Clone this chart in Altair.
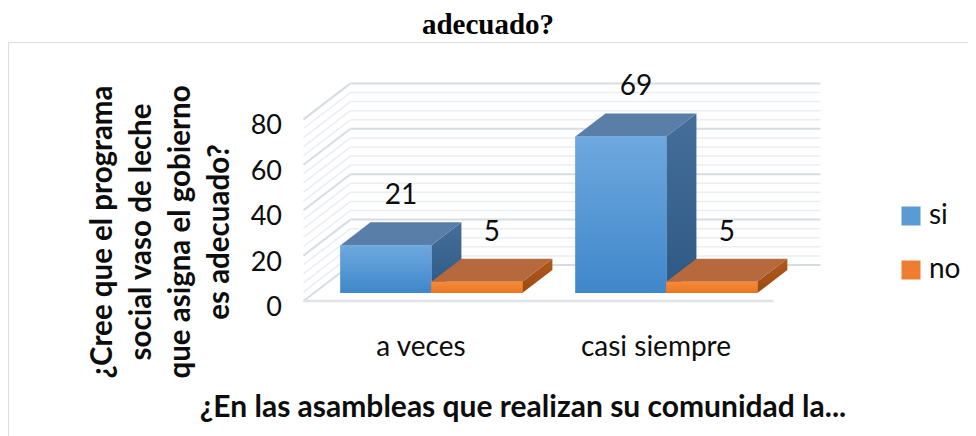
import altair as alt
import pandas as pd

# ---------------- data ----------------
categories = ["a veces", "casi siempre"]
series = ["si", "no"]
si_values = [21, 69]
no_values = [5, 5]
y_ticks = [0, 20, 40, 60, 80]
minor_step = 4

title_text = "adecuado?"
x_title = "¿En las asambleas que realizan su comunidad la..."
y_title_lines = ["¿Cree que el programa", "social vaso de leche",
                 "que asigna el gobierno", "es adecuado?"]

# ---------------- styling / 3D geometry ----------------
W, H = 960, 394
X_DOMAIN = [-1.7574, 2.3277]
Y_DOMAIN = [-59.47, 114.1]
DX = 0.2        # x shift (category units) across the full depth
DY = 15.86      # y shift (value units) across the full depth
D_FRONT, D_BACK = 0.22, 0.86
BW = 0.387      # bar width in category units
LABEL_GAP = 11.5

BLUE, ORANGE = "#5b9bd5", "#ed7d31"
FONT = "Lato"
TXT = "#0d0d0d"

values = {"si": si_values, "no": no_values}
front, top, side, labels = [], [], [], []
for i, cat in enumerate(categories):
    for j, s in enumerate(series):
        v = values[s][i]
        xl = i - BW + j * BW
        xr = xl + BW
        bid = f"{cat}-{s}"
        front.append(dict(id=bid, series=s, x=xl + D_FRONT * DX, x2=xr + D_FRONT * DX,
                          y=D_FRONT * DY, y2=v + D_FRONT * DY))
        for d in (D_FRONT, D_BACK):
            top.append(dict(id=bid, series=s, y=v + d * DY, x=xl + d * DX, x2=xr + d * DX))
            side.append(dict(id=bid, series=s, x=xr + d * DX, y=d * DY, y2=v + d * DY))
        labels.append(dict(series=s, value=v, x=(xl + xr) / 2 + 0.5 * (D_FRONT + D_BACK) * DX,
                           y=v + D_BACK * DY + LABEL_GAP))

front_df = pd.DataFrame(front)
top_df = pd.DataFrame(top)
side_df = pd.DataFrame(side)
labels_df = pd.DataFrame(labels)

n = len(categories)
grid = []
for v in range(0, max(y_ticks) + 1, minor_step):
    grid.append(dict(v=v, major=v in y_ticks,
                     bx=-0.5 + DX, bx2=n - 0.5 + DX, by=v + DY,
                     sx=-0.5, sy=v, sx2=-0.5 + DX, sy2=v + DY))
grid_df = pd.DataFrame(grid)
floor_df = pd.DataFrame([dict(x=-0.5, x2=n - 0.5, y=0)])
ticks_df = pd.DataFrame({"v": y_ticks})
cats_df = pd.DataFrame({"cat": categories, "u": list(range(n))})


def X(f):
    return alt.X(f, type="quantitative", scale=alt.Scale(domain=X_DOMAIN, nice=False, zero=False), axis=None)


def Y(f):
    return alt.Y(f, type="quantitative", scale=alt.Scale(domain=Y_DOMAIN, nice=False, zero=False), axis=None)


def grad(c1, c2):
    return alt.Gradient(gradient="linear", x1=0, x2=0, y1=0, y2=1,
                        stops=[alt.GradientStop(color=c1, offset=0),
                               alt.GradientStop(color=c2, offset=1)])


back_grid = alt.Chart(grid_df).mark_rule().encode(
    x=X("bx"), x2="bx2", y=Y("by"),
    color=alt.condition("datum.major", alt.value("#d6dce4"), alt.value("#eaedf1")),
    strokeWidth=alt.condition("datum.major", alt.value(2), alt.value(1.5)),
)
side_grid = alt.Chart(grid_df).mark_rule().encode(
    x=X("sx"), x2="sx2", y=Y("sy"), y2="sy2",
    color=alt.condition("datum.major", alt.value("#d6dce4"), alt.value("#eaedf1")),
    strokeWidth=alt.condition("datum.major", alt.value(2), alt.value(1.5)),
)
floor_line = alt.Chart(floor_df).mark_rule(color="#dfe3e8", strokeWidth=2.5).encode(
    x=X("x"), x2="x2", y=Y("y"))

layers = [back_grid, side_grid, floor_line]

face_style = {
    "si": dict(front=grad("#6ea8df", "#3f87ca"), top="#597ea8",
               side=grad("#456f9a", "#2d5985")),
    "no": dict(front=grad("#f58b3a", "#ec7520"), top="#b5693c",
               side=grad("#b0591c", "#9c4a12")),
}

for s in series:
    st = face_style[s]
    layers.append(alt.Chart(side_df).transform_filter(alt.datum.series == s)
                  .mark_area(orient="vertical", color=st["side"])
                  .encode(x=X("x"), y=Y("y"), y2="y2", detail="id:N"))
    layers.append(alt.Chart(top_df).transform_filter(alt.datum.series == s)
                  .mark_area(orient="horizontal", color=st["top"])
                  .encode(y=Y("y"), x=X("x"), x2="x2", detail="id:N"))
    layers.append(alt.Chart(front_df).transform_filter(alt.datum.series == s)
                  .mark_bar(cornerRadius=0)
                  .encode(x=X("x"), x2="x2", y=Y("y"), y2="y2",
                          color=alt.Color("series:N",
                                          scale=alt.Scale(domain=series, range=[BLUE, ORANGE]),
                                          legend=alt.Legend(title=None, orient="none",
                                                            legendX=889, legendY=160,
                                                            symbolType="square", symbolSize=361,
                                                            symbolStrokeWidth=0,
                                                            labelFont=FONT, labelFontSize=28,
                                                            labelColor=TXT, rowPadding=26,
                                                            labelOffset=4))))
    layers.append(alt.Chart(front_df).transform_filter(alt.datum.series == s)
                  .mark_bar(color=st["front"])
                  .encode(x=X("x"), x2="x2", y=Y("y"), y2="y2"))

value_labels = alt.Chart(labels_df).mark_text(
    font=FONT, fontSize=28, color=TXT, baseline="middle", align="center").encode(
    x=X("x"), y=Y("y"), text="value:Q")
tick_labels = alt.Chart(ticks_df).mark_text(
    font=FONT, fontSize=27, color=TXT, baseline="middle", align="right", dy=7).encode(
    x=alt.value(274), y=Y("v"), text="v:Q")
cat_labels = alt.Chart(cats_df).mark_text(
    font=FONT, fontSize=28, color=TXT, baseline="middle", align="center").encode(
    x=X("u"), y=alt.value(306), text="cat:N")
x_title_mark = alt.Chart(pd.DataFrame({"t": [x_title]})).mark_text(
    font=FONT, fontSize=30, fontWeight="bold", color=TXT, baseline="middle", align="center").encode(
    x=alt.value(515), y=alt.value(366), text="t:N")
y_title_mark = alt.Chart(pd.DataFrame({"t": [0]})).mark_text(
    text=y_title_lines, font=FONT, fontSize=29.5, fontWeight="bold", color=TXT,
    baseline="middle", align="center", angle=270, lineHeight=39).encode(
    x=alt.value(95), y=alt.value(190))

layers += [value_labels, tick_labels, cat_labels, x_title_mark, y_title_mark]

chart = alt.layer(*layers).properties(
    width=W, height=H,
    title=alt.TitleParams(title_text, font="Liberation Serif", fontSize=29, fontWeight="bold",
                          color="#000000", anchor="middle", offset=2),
    autosize=alt.AutoSizeParams(type="none"),
    padding={"left": 0, "top": 34, "right": 0, "bottom": 0},
).configure_view(stroke="#d9dde3", strokeWidth=1.5).configure(background="white")

chart.save("out.html", embed_options={"renderer": "svg", "actions": False})
